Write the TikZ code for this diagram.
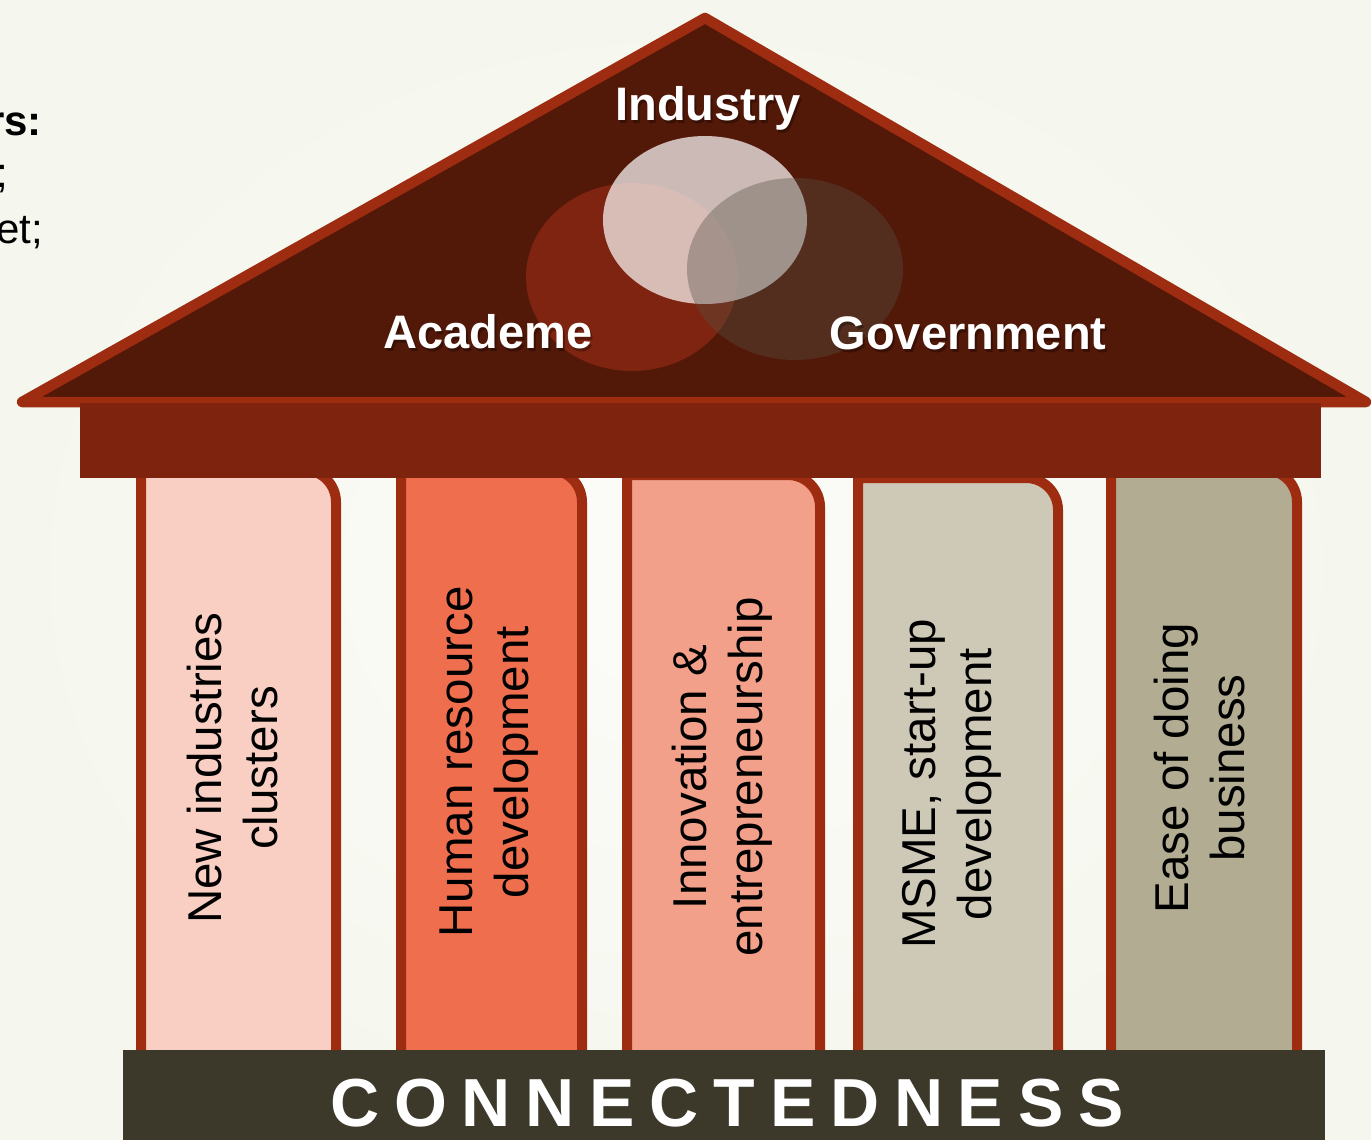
\documentclass[tikz,border=0pt]{standalone}
\usepackage{fontspec}
\setmainfont{Liberation Sans}
\definecolor{bgin}{RGB}{252,252,249}
\definecolor{bgout}{RGB}{245,247,238}
\definecolor{edgec}{RGB}{158,44,17}
\definecolor{roofc}{RGB}{82,24,8}
\definecolor{beamc}{RGB}{126,36,14}
\definecolor{basec}{RGB}{60,56,42}
\definecolor{pA}{RGB}{249,207,195}
\definecolor{pB}{RGB}{239,110,78}
\definecolor{pC}{RGB}{242,160,137}
\definecolor{pD}{RGB}{206,200,183}
\definecolor{pE}{RGB}{178,172,147}
\definecolor{acadc}{RGB}{126,36,16}
\definecolor{govc}{RGB}{85,81,68}
\newcommand\ltsp{\kern14.8pt}
\begin{document}
\begin{tikzpicture}[x=1pt,y=1pt,
  pillar/.style={draw=edgec,line width=10pt,line join=round},
  pillartext/.style={rotate=90,align=center,inner sep=0pt,text=black,
    font=\fontsize{47.5}{56}\selectfont},
  rooftext/.style={inner sep=0pt,anchor=base,text=white,
    font=\fontsize{47}{56}\selectfont\bfseries},
  roofshadow/.style={inner sep=0pt,anchor=base,text=black,opacity=0.3,
    font=\fontsize{47}{56}\selectfont\bfseries},
  sidetext/.style={inner sep=0pt,anchor=base east,text=black,
    font=\fontsize{42}{50}\selectfont}]
\useasboundingbox (0,0) rectangle (1371,-1140);
\shade[inner color=bgin,outer color=bgout] (0,0) rectangle (1371,-1140);

% cut-off side texts
\node[sidetext,font=\fontsize{42}{50}\selectfont\bfseries] (s1) at (42,-135) {rs:};
\node[sidetext] (s2) at (8,-187) {;};
\node[sidetext] (s3) at (43,-243) {et;};
\node[sidetext] (s4) at (1.5,-1000) {l};

% roof
\draw[fill=roofc,draw=edgec,line width=10.5pt,line join=round]
  (22,-402) -- (705,-18) -- (1366,-402) -- cycle;

% pillars
\draw[pillar,fill=pA] (141,-1060) -- (141,-470) -- (304,-470) arc[start angle=90,end angle=0,radius=32] -- (336,-1060);
\draw[pillar,fill=pB] (401,-1060) -- (401,-470) -- (550,-470) arc[start angle=90,end angle=0,radius=32] -- (582,-1060);
\draw[pillar,fill=pC] (627,-1060) -- (627,-475) -- (788,-475) arc[start angle=90,end angle=0,radius=32] -- (820,-1060);
\draw[pillar,fill=pD] (858,-1060) -- (858,-478) -- (1026,-478) arc[start angle=90,end angle=0,radius=32] -- (1058,-1060);
\draw[pillar,fill=pE] (1111,-1060) -- (1111,-470) -- (1265,-470) arc[start angle=90,end angle=0,radius=32] -- (1297,-1060);

% beam
\fill[beamc] (80,-403) rectangle (1321,-478);

% venn
\fill[acadc] (632,-277) ellipse[x radius=106,y radius=94];
\fill[white,opacity=0.7] (705,-220) ellipse[x radius=102,y radius=84];
\fill[govc,opacity=0.38] (795,-269) ellipse[x radius=108,y radius=91];

% roof labels
\node[roofshadow] (ind-s) at (710,-123) {Industry};
\node[rooftext] (ind) at (708,-120) {Industry};
\node[roofshadow] (aca-s) at (490,-351) {Academe};
\node[rooftext] (aca) at (488,-348) {Academe};
\node[roofshadow] (gov-s) at (970,-352) {Government};
\node[rooftext] (gov) at (968,-349) {Government};

% pillar texts
\node[pillartext] (t1) at (233,-768) {New industries\\clusters};
\node[pillartext] (t2) at (489,-762) {Human resource\\development};
\node[pillartext] (t3) at (722,-777) {Innovation \&\\entrepreneurship};
\node[pillartext] (t4) at (952,-784) {MSME, start-up\\development};
\node[pillartext] (t5) at (1200,-768) {Ease of doing\\business};

% base
\fill[basec] (123,-1050) rectangle (1325,-1145);
\node[inner sep=0pt,anchor=base,text=white,font=\fontsize{68}{80}\selectfont\bfseries] (conn) at (727,-1126)
  {C\ltsp O\ltsp N\ltsp N\ltsp E\ltsp C\ltsp T\ltsp E\ltsp D\ltsp N\ltsp E\ltsp S\ltsp S};
\end{tikzpicture}
\end{document}
